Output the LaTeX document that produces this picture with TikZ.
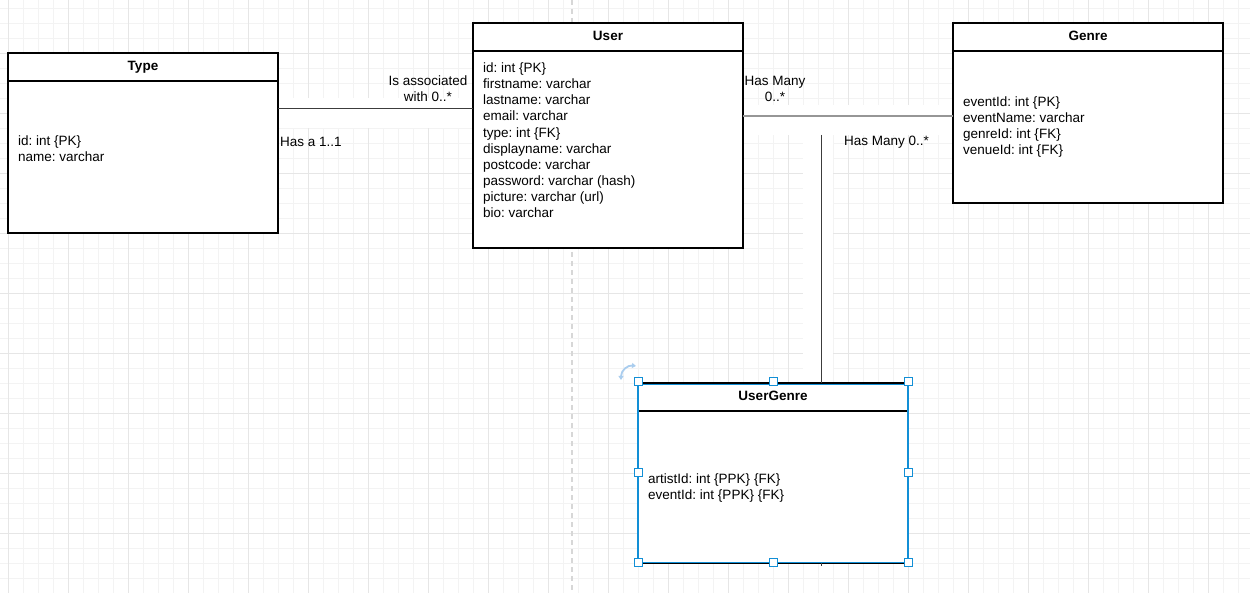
\documentclass[tikz,border=0pt]{standalone}
\usepackage{fontspec}
\setmainfont{Liberation Sans}
\frenchspacing
\usetikzlibrary{arrows.meta}
\definecolor{gridminor}{RGB}{243,243,243}
\definecolor{gridmajor}{RGB}{230,230,230}
\definecolor{selblue}{RGB}{18,143,214}
\definecolor{rotblue}{RGB}{170,205,238}
\definecolor{dashgray}{RGB}{215,215,215}
\definecolor{linedark}{RGB}{60,60,60}
\definecolor{linegray}{RGB}{150,150,150}
\tikzset{
  entity/.style={draw=black, fill=white, line width=1.4pt, rectangle, anchor=north west, inner sep=0, outer sep=0, minimum width=270pt},
  title/.style={font=\bfseries\fontsize{13.5}{16}\selectfont, anchor=base, inner sep=0},
  body/.style={font=\fontsize{13.5}{16.15}\selectfont, anchor=north west, align=left, inner sep=0},
  lbl/.style={font=\fontsize{13.5}{16}\selectfont, inner sep=0, align=center},
  conn/.style={draw=linedark, line width=0.9pt},
  handle/.style={draw=selblue, fill=white, line width=1pt, rectangle, minimum size=8pt, inner sep=0},
}
\begin{document}
\begin{tikzpicture}[x=1pt,y=-1pt]
\useasboundingbox (0,0) rectangle (1250,593);
% grid
\foreach \i in {0,...,83} {
  \pgfmathsetmacro{\gx}{8+15*\i}
  \draw[gridminor, line width=0.8pt] (\gx,0) -- (\gx,593);
}
\foreach \i in {0,...,39} {
  \pgfmathsetmacro{\gy}{8+15*\i}
  \draw[gridminor, line width=0.8pt] (0,\gy) -- (1250,\gy);
}
\foreach \i in {0,...,20} {
  \pgfmathsetmacro{\gx}{8+60*\i}
  \draw[gridmajor, line width=0.9pt] (\gx,0) -- (\gx,593);
}
\foreach \i in {-1,...,9} {
  \pgfmathsetmacro{\gy}{53+60*\i}
  \draw[gridmajor, line width=0.9pt] (0,\gy) -- (1250,\gy);
}
% white patches behind connector labels
\fill[white] (279,98) rectangle (472,128);
\fill[white] (744,105) rectangle (952,135);
\fill[white] (803,135) rectangle (833,382);
% dashed guide
\draw[dashgray, line width=1.2pt, dash pattern=on 5pt off 4pt] (572,0) -- (572,593);

% entities
\node[entity, minimum height=180pt] (type) at (8,53) {};
\node[entity, minimum height=225pt] (user) at (473,23) {};
\node[entity, minimum height=180pt] (genre) at (953,23) {};
\node[entity, minimum height=180pt] (usergenre) at (638,383) {};

\draw[line width=1.4pt] (type.north west) ++(0,28) -- ++(270,0);
\draw[line width=1.4pt] (user.north west) ++(0,28) -- ++(270,0);
\draw[line width=1.4pt] (genre.north west) ++(0,28) -- ++(270,0);
\draw[line width=1.4pt] (usergenre.north west) ++(0,28) -- ++(270,0);

\node[title] (typeT) at (143,70.5) {Type};
\node[title] (userT) at (608,40.5) {User};
\node[title] (genreT) at (1088,40.5) {Genre};
\node[title] (ugT) at (773,400.5) {UserGenre};

\node[body] (typeB) at (18,135.5) {id: int \{PK\}\\name: varchar};
\node[body] (userB) at (483,62.5) {id: int \{PK\}\\firstname: varchar\\lastname: varchar\\email: varchar\\type: int \{FK\}\\displayname: varchar\\postcode: varchar\\password: varchar (hash)\\picture: varchar (url)\\bio: varchar};
\node[body] (genreB) at (963,96.5) {eventId: int \{PK\}\\eventName: varchar\\genreId: int \{FK\}\\venueId: int \{FK\}};
\node[body] (ugB) at (648,473.5) {artistId: int \{PPK\} \{FK\}\\eventId: int \{PPK\} \{FK\}};

% connectors
\coordinate (tuy) at (0,108);
\coordinate (ugy) at (0,116);
\coordinate (vtop) at (821,135);
\draw[conn] (type.east |- tuy) -- (user.west |- tuy);
\draw[draw=linegray, line width=1.3pt] (user.east |- ugy) -- (genre.west |- ugy);
\draw[conn] (vtop) -- (usergenre.north -| vtop);
\draw[conn] (usergenre.south -| vtop) -- ++(0,3);

\node[lbl] (l1) at (428,89) {Is associated\\with 0..*};
\node[lbl, anchor=west] (l2) at (280,142) {Has a 1..1};
\node[lbl] (l3) at (775,89) {Has Many\\0..*};
\node[lbl, anchor=west] (l4) at (844,142) {Has Many 0..*};

% selection
\draw[selblue, line width=1.7pt] (usergenre.north west) -- (usergenre.south west);
\draw[selblue, line width=1.7pt] (usergenre.north east) -- (usergenre.south east);
\draw[selblue, line width=0.6pt] ([yshift=-0.9pt]usergenre.north west) -- ([yshift=-0.9pt]usergenre.north east);
\draw[selblue, line width=0.6pt] ([yshift=0.9pt]usergenre.south west) -- ([yshift=0.9pt]usergenre.south east);
\node[handle] (h1) at (638,382) {};
\node[handle] (h2) at (773,382) {};
\node[handle] (h3) at (908,382) {};
\node[handle] (h4) at (638,472) {};
\node[handle] (h5) at (908,472) {};
\node[handle] (h6) at (638,562) {};
\node[handle] (h7) at (773,562) {};
\node[handle] (h8) at (908,562) {};
% rotate icon
\draw[rotblue, line width=1.8pt, {Triangle[length=4pt,width=5pt]}-{Triangle[length=4pt,width=5pt]}] (621,380) .. controls (621,370) and (628,365) .. (636,366);
\end{tikzpicture}
\end{document}
